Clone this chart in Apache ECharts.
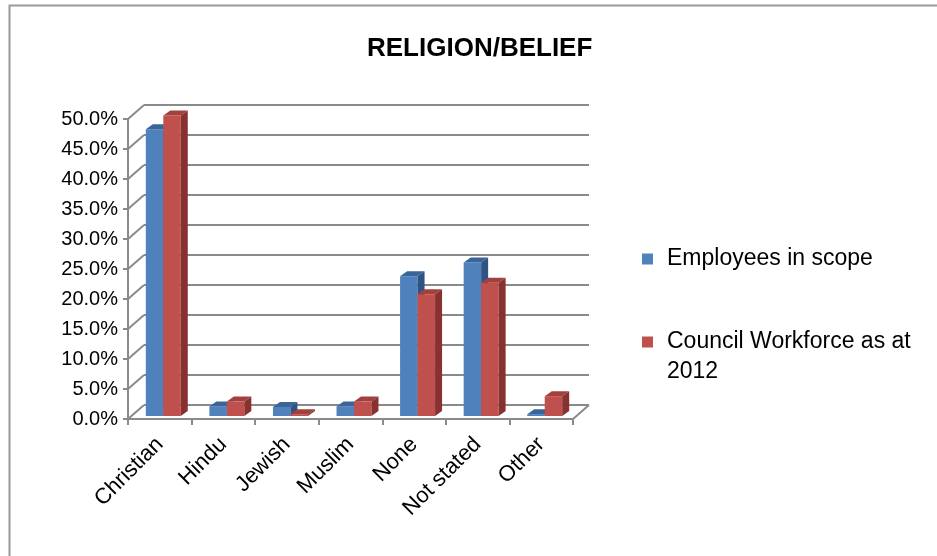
<!DOCTYPE html>
<html><head><meta charset="utf-8">
<script src="https://cdn.jsdelivr.net/npm/echarts@6/dist/echarts.min.js"></script>
<style>html,body{margin:0;padding:0;background:#fff}#c{width:937px;height:556px}</style>
</head><body><div id="c"></div>
<script>
const categories = ['Christian','Hindu','Jewish','Muslim','None','Not stated','Other'];
const employeesInScope = [47.8, 1.6, 1.5, 1.6, 23.3, 25.6, 0.3];
const councilWorkforce2012 = [50.1, 2.4, 0.3, 2.4, 20.3, 22.2, 3.3];
const seriesNames = ['Employees in scope', 'Council Workforce as at 2012'];
const yTicks = [0, 5, 10, 15, 20, 25, 30, 35, 40, 45, 50];

const FONT = 'Liberation Sans';
const GRAY = '#8a8a8a';
const WALL_DX = 16, WALL_DY = 14;     // depth of the 3D walls
const OFF_X = 3.5, OFF_Y = 3;          // bar front plane offset
const BDX = 7, BDY = 5;                // bar depth

const chart = echarts.init(document.getElementById('c'), null, {renderer: 'canvas'});

function wallRenderer(params, api) {
  const cs = params.coordSys;
  const v = api.value(1);
  const y = api.coord([0, v])[1];
  const xl = cs.x, xr = cs.x + cs.width;
  const ls = {stroke: GRAY, lineWidth: 2};
  const children = [
    {type: 'line', shape: {x1: xl + WALL_DX, y1: y - WALL_DY, x2: xr + WALL_DX, y2: y - WALL_DY}, style: ls},
    {type: 'line', shape: {x1: xl, y1: y, x2: xl + WALL_DX, y2: y - WALL_DY}, style: ls}
  ];
  if (v === 0) {
    children.push({type: 'line', shape: {x1: xr, y1: y, x2: xr + WALL_DX, y2: y - WALL_DY}, style: ls});
  }
  return {type: 'group', children: children};
}

function barRenderer(sIdx, topColor, sideColor) {
  return function (params, api) {
    const i = api.value(0), v = api.value(1);
    const base = api.coord([i, 0]);
    const tip = api.coord([i, v]);
    const band = api.size([1, 0])[0];
    const w = band * 0.275;
    const x0 = base[0] + OFF_X + (sIdx === 0 ? -w : 0);
    const x1 = x0 + w;
    const yb = base[1] - OFF_Y, yt = tip[1] - OFF_Y;
    return {type: 'group', children: [
      {type: 'rect', shape: {x: x0, y: yt, width: w, height: Math.max(0, yb - yt)}, style: {fill: api.visual('color')}},
      {type: 'polygon', shape: {points: [[x0, yt], [x1, yt], [x1 + BDX, yt - BDY], [x0 + BDX, yt - BDY]]}, style: {fill: topColor}},
      {type: 'polygon', shape: {points: [[x1, yt], [x1 + BDX, yt - BDY], [x1 + BDX, yb - BDY], [x1, yb]]}, style: {fill: sideColor}}
    ]};
  };
}

const option = {
  backgroundColor: '#fff',
  animation: false,
  title: {
    text: 'RELIGION/BELIEF',
    left: 367, top: 36, padding: 0,
    textStyle: {fontFamily: FONT, fontWeight: 'bold', fontSize: 26, color: '#000'}
  },
  legend: [
    {
      data: [seriesNames[0]],
      left: 642, top: 246, padding: 0,
      itemWidth: 11, itemHeight: 11, icon: 'rect',
      textStyle: {fontFamily: FONT, fontSize: 23, color: '#000', lineHeight: 26, padding: [0, 0, 0, 9]}
    },
    {
      data: [{name: seriesNames[1], icon: 'path://M0,9.5L11,9.5L11,20.5L0,20.5Z M0,0L0.01,0L0.01,0.01Z M0,60L0.01,60L0.01,60.01Z'}],
      left: 642, top: 327, padding: 0,
      itemWidth: 11, itemHeight: 60,
      formatter: function (n) { return 'Council Workforce as at\n2012'; },
      textStyle: {fontFamily: FONT, fontSize: 23, color: '#000', lineHeight: 30, padding: [0, 0, 0, 9]}
    }
  ],
  grid: {left: 128, right: 364, top: 119, bottom: 137, containLabel: false},
  xAxis: {
    type: 'category',
    data: categories,
    axisLine: {show: true, lineStyle: {color: GRAY, width: 2}},
    axisTick: {show: true, length: 6, lineStyle: {color: GRAY, width: 2}},
    axisLabel: {rotate: 45, margin: 22, fontFamily: FONT, fontSize: 22, color: '#000'},
    splitLine: {show: false}
  },
  yAxis: {
    type: 'value',
    min: 0, max: 50, interval: 5,
    axisLine: {show: true, lineStyle: {color: GRAY, width: 2}},
    axisTick: {show: true, length: 5, lineStyle: {color: GRAY, width: 2}},
    axisLabel: {margin: 10, fontFamily: FONT, fontSize: 20, color: '#000', padding: [8, 0, 0, 0],
      formatter: function (v) { return v.toFixed(1) + '%'; }},
    splitLine: {show: false}
  },
  graphic: [{
    type: 'rect', silent: true, z: -10,
    shape: {x: 9.5, y: 5.5, width: 1200, height: 1200},
    style: {fill: 'none', stroke: '#9a9a9a', lineWidth: 2}
  }],
  series: [
    {
      type: 'custom', name: 'wall', silent: true, z: 1,
      data: yTicks.map(function (v) { return [0, v]; }),
      renderItem: wallRenderer
    },
    {
      type: 'custom', name: seriesNames[0], z: 2,
      itemStyle: {color: '#4F81BD'},
      data: employeesInScope.map(function (v, i) { return [i, v]; }),
      renderItem: barRenderer(0, '#3a6599', '#2f5384')
    },
    {
      type: 'custom', name: seriesNames[1], z: 2,
      itemStyle: {color: '#C0504D'},
      data: councilWorkforce2012.map(function (v, i) { return [i, v]; }),
      renderItem: barRenderer(1, '#a3403d', '#873230')
    }
  ]
};
chart.setOption(option);
</script>
</body></html>
